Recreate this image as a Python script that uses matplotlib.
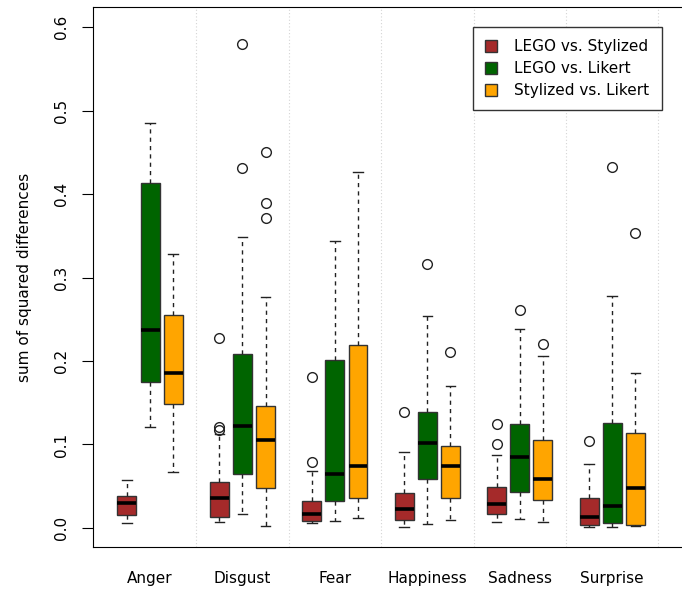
import numpy as np
import matplotlib.pyplot as plt

emotions = ["Anger", "Disgust", "Fear", "Happiness", "Sadness", "Surprise"]
series = ["LEGO vs. Stylized", "LEGO vs. Likert", "Stylized vs. Likert"]
colors = ["#A52A2A", "#006400", "#FFA500"]

# LEGO vs. Stylized
ls_lo = [0.006, 0.007, 0.006, 0.0016, 0.0076, 0.0012]
ls_q1 = [0.0155, 0.013, 0.0088, 0.0096, 0.0171, 0.004]
ls_med = [0.0295, 0.0355, 0.0164, 0.0231, 0.029, 0.0132]
ls_q3 = [0.038, 0.0547, 0.0327, 0.0423, 0.0487, 0.0355]
ls_hi = [0.058, 0.1126, 0.068, 0.0914, 0.087, 0.0763]
ls_out = [[], [0.117, 0.121, 0.2275], [0.0787, 0.181], [0.139], [0.101, 0.124], [0.104]]

# LEGO vs. Likert
ll_lo = [0.121, 0.0168, 0.0088, 0.0048, 0.0104, 0.0016]
ll_q1 = [0.175, 0.0647, 0.0323, 0.0587, 0.0431, 0.0064]
ll_med = [0.237, 0.1226, 0.065, 0.102, 0.085, 0.026]
ll_q3 = [0.413, 0.208, 0.201, 0.1385, 0.1245, 0.126]
ll_hi = [0.485, 0.349, 0.344, 0.254, 0.238, 0.2778]
ll_out = [[], [0.431, 0.58], [], [0.316], [0.261], [0.4327]]

# Stylized vs. Likert
sl_lo = [0.067, 0.0024, 0.012, 0.0092, 0.0068, 0.0024]
sl_q1 = [0.1485, 0.0475, 0.036, 0.036, 0.0331, 0.0032]
sl_med = [0.186, 0.1054, 0.0746, 0.0739, 0.0587, 0.0479]
sl_q3 = [0.2555, 0.146, 0.219, 0.0986, 0.1054, 0.1134]
sl_hi = [0.328, 0.277, 0.426, 0.1705, 0.2056, 0.1856]
sl_out = [[], [0.3716, 0.389, 0.4507], [], [0.2108], [0.22], [0.3537]]

groups = [
    (ls_lo, ls_q1, ls_med, ls_q3, ls_hi, ls_out),
    (ll_lo, ll_q1, ll_med, ll_q3, ll_hi, ll_out),
    (sl_lo, sl_q1, sl_med, sl_q3, sl_hi, sl_out),
]

plt.rcParams['font.family'] = ['DejaVu Sans']
fig = plt.figure(figsize=(6.82, 5.94), dpi=100)
ax = fig.add_axes([93 / 682, 47 / 594, 600 / 682, 540 / 594])

for j, (lo, q1, med, q3, hi, out) in enumerate(groups):
    stats = []
    for i in range(len(emotions)):
        stats.append(dict(med=med[i], q1=q1[i], q3=q3[i], whislo=lo[i],
                          whishi=hi[i], fliers=out[i]))
    pos = [4 * i + 1 + j for i in range(len(emotions))]
    ax.bxp(stats, positions=pos, widths=0.82, patch_artist=True,
           showcaps=True, capwidths=0.41,
           boxprops=dict(facecolor=colors[j], edgecolor="#333333", linewidth=1.0),
           medianprops=dict(color="black", linewidth=2.6, solid_capstyle="butt"),
           whiskerprops=dict(color="#222222", linestyle=(0, (3, 3)), linewidth=1.0),
           capprops=dict(color="#222222", linewidth=1.0),
           flierprops=dict(marker="o", markersize=7, markerfacecolor="none",
                           markeredgecolor="#222222", markeredgewidth=1.0))

for g in range(4, 25, 4):
    ax.axvline(g, color="#d4d4d4", linestyle=(0, (1, 2)), linewidth=0.8, zorder=0)

ax.set_xlim(-0.47, 25.5)
ax.set_ylim(-0.0228, 0.624)
ax.set_xticks([4 * i + 2 for i in range(len(emotions))])
ax.set_xticklabels(emotions, fontsize=11)
ax.tick_params(axis="x", length=0, pad=17)
ax.set_yticks(np.arange(0, 0.61, 0.1))
ax.set_yticklabels([f"{v:.1f}" for v in np.arange(0, 0.61, 0.1)],
                   rotation=90, va="center", fontsize=11)
ax.tick_params(axis="y", length=8, pad=9)
ax.set_ylabel("sum of squared differences", fontsize=11, labelpad=16)

handles = [plt.Rectangle((0, 0), 1, 1, facecolor=c, edgecolor="#333333") for c in colors]
leg = ax.legend(handles, series, loc="upper left",
                bbox_to_anchor=(380 / 600, 1 - 20 / 540), borderaxespad=0,
                fontsize=11, fancybox=False, framealpha=1, edgecolor="#333333",
                handlelength=0.8, handleheight=0.8, handletextpad=1.1,
                borderpad=0.8, labelspacing=0.45)
leg.get_frame().set_linewidth(1.0)

fig.savefig("out.png", dpi=100)
